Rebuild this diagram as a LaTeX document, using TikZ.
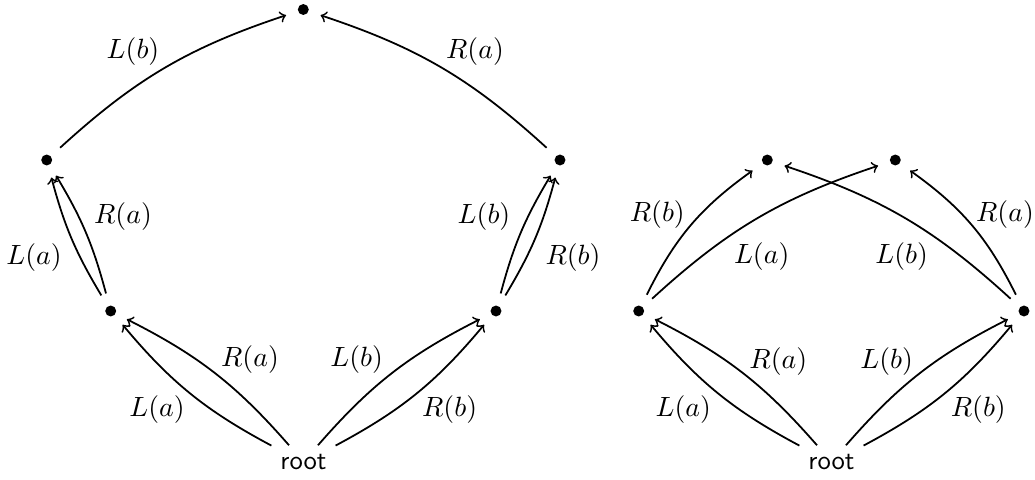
\documentclass[tikz,border=0pt]{standalone}
\begin{document}
\begin{tikzpicture}[x=0.01383cm, y=0.01383cm,
  every node/.style={font=\fontsize{10.5}{12.6}\selectfont},
  dot/.style={circle, fill, inner sep=0pt, minimum size=4.3pt, outer sep=5pt},
  rootnode/.style={font=\fontsize{10.5}{12.6}\selectfont\sffamily},
  arr/.style={->, line width=0.7pt},
  lab/.style={inner sep=1pt}]
\useasboundingbox (0,0) rectangle (1035,479);
% left graph
\node[rootnode] (r1) at (303.5,17) {root};
\node[dot] (LM) at (110.7,168) {};
\node[dot] (RM) at (496,168) {};
\node[dot] (LU) at (46.7,319) {};
\node[dot] (RU) at (560,319) {};
\node[dot] (T) at (303.3,469.5) {};
\draw[arr] (r1) to[bend left=11] (LM);
\draw[arr] (r1) to[bend right=11] (LM);
\draw[arr] (r1) to[bend left=11] (RM);
\draw[arr] (r1) to[bend right=11] (RM);
\draw[arr] (LM) to[bend left=8] (LU);
\draw[arr] (LM) to[bend right=8] (LU);
\draw[arr] (RM) to[bend left=8] (RU);
\draw[arr] (RM) to[bend right=8] (RU);
\draw[arr] (LU) to[bend left=12] (T);
\draw[arr] (RU) to[bend right=12] (T);
\node[lab] (l1) at (157,69) {$L(a)$};
\node[lab] (l2) at (250,119) {$R(a)$};
\node[lab] (l3) at (356.6,119) {$L(b)$};
\node[lab] (l4) at (449.6,69) {$R(b)$};
\node[lab] (l5) at (34,221) {$L(a)$};
\node[lab] (l6) at (123,262) {$R(a)$};
\node[lab] (l7) at (484,262) {$L(b)$};
\node[lab] (l8) at (573,221) {$R(b)$};
\node[lab] (l9) at (133,427) {$L(b)$};
\node[lab] (l10) at (475,427) {$R(a)$};
% right graph
\node[rootnode] (r2) at (831.5,17) {root};
\node[dot] (L2) at (638.7,168) {};
\node[dot] (R2) at (1024,168) {};
\node[dot] (TL) at (767.3,319) {};
\node[dot] (TR) at (895.3,319) {};
\draw[arr] (r2) to[bend left=11] (L2);
\draw[arr] (r2) to[bend right=11] (L2);
\draw[arr] (r2) to[bend left=11] (R2);
\draw[arr] (r2) to[bend right=11] (R2);
\draw[arr] (L2) to[bend left=14] (TL);
\draw[arr] (L2) to[bend left=12] (TR);
\draw[arr] (R2) to[bend right=12] (TL);
\draw[arr] (R2) to[bend right=14] (TR);
\node[lab] (m1) at (683.3,69) {$L(a)$};
\node[lab] (m2) at (778.3,117) {$R(a)$};
\node[lab] (m3) at (886.7,117) {$L(b)$};
\node[lab] (m4) at (978.3,69) {$R(b)$};
\node[lab] (m5) at (657.3,264) {$R(b)$};
\node[lab] (m6) at (761.7,222) {$L(a)$};
\node[lab] (m7) at (901.7,222) {$L(b)$};
\node[lab] (m8) at (1005,264) {$R(a)$};
\end{tikzpicture}
\end{document}
